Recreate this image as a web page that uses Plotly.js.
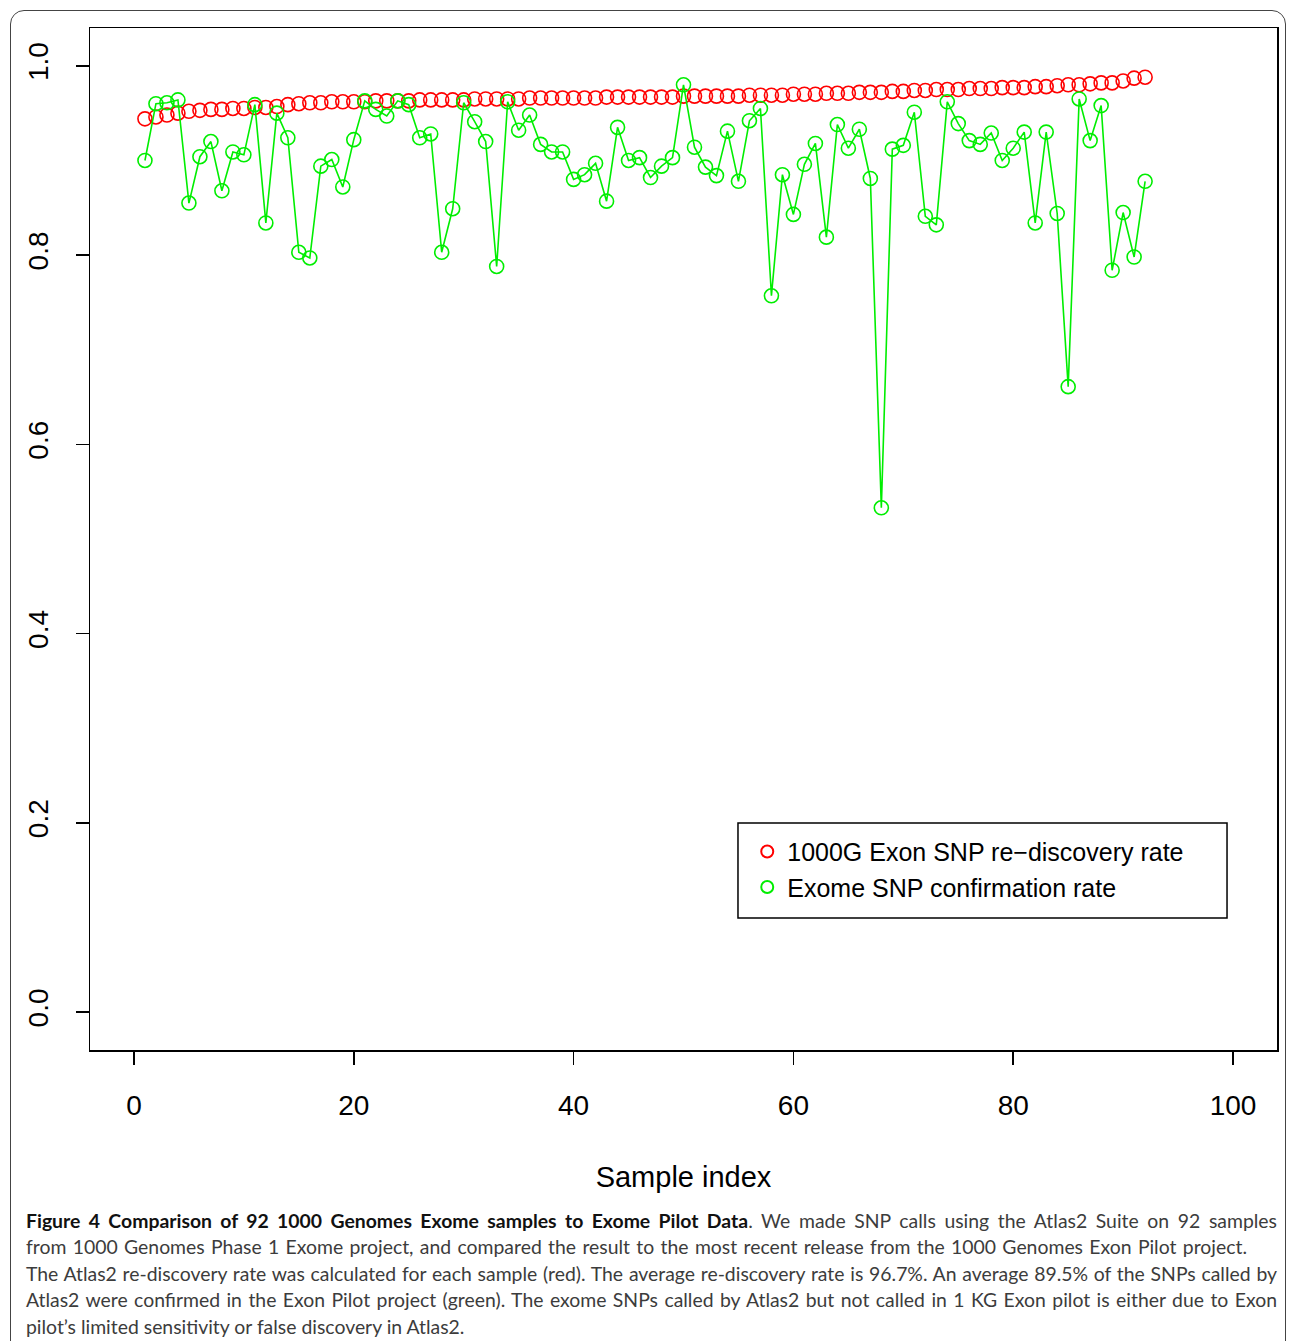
<!DOCTYPE html>
<html>
<head>
<meta charset="utf-8">
<script src="https://cdn.plot.ly/plotly-3.0.1.min.js"></script>
<style>
html, body { margin:0; padding:0; width:1290px; height:1341px; overflow:hidden; background:#fff; }
#frame { position:absolute; left:10px; top:10px; width:1276px; height:1420px; border:1.5px solid #444; border-radius:14px; box-sizing:border-box; }
#plot { position:absolute; left:0; top:0; width:1290px; height:1341px; }
.cap { position:absolute; left:26px; font-family:"Lato","Open Sans",sans-serif; font-size:19.4px; color:#3c3c3c; white-space:nowrap; line-height:26px; }
.just { text-align:justify; text-align-last:justify; white-space:normal; height:26px; }
.cap b { color:#111; }
</style>
</head>
<body>
<div id="frame"></div>
<div id="plot"></div>
<div class="cap just" style="top:1208px; width:1251px;"><b>Figure 4 Comparison of 92 1000 Genomes Exome samples to Exome Pilot Data</b>. We made SNP calls using the Atlas2 Suite on 92 samples</div>
<div class="cap just" style="top:1234px; width:1221px;">from 1000 Genomes Phase 1 Exome project, and compared the result to the most recent release from the 1000 Genomes Exon Pilot project.</div>
<div class="cap just" style="top:1261px; width:1251px;">The Atlas2 re-discovery rate was calculated for each sample (red). The average re-discovery rate is 96.7%. An average 89.5% of the SNPs called by</div>
<div class="cap just" style="top:1287px; width:1251px;">Atlas2 were confirmed in the Exon Pilot project (green). The exome SNPs called by Atlas2 but not called in 1 KG Exon pilot is either due to Exon</div>
<div class="cap" style="top:1314px;">pilot’s limited sensitivity or false discovery in Atlas2.</div>
<script>
const sampleIndex = Array.from({length: 92}, (_, i) => i + 1);

const rediscoveryRate = [
  0.944, 0.946, 0.948, 0.950, 0.952, 0.953, 0.954, 0.954, 0.955, 0.955,
  0.956, 0.956, 0.957, 0.959, 0.960, 0.961, 0.961, 0.962, 0.962, 0.962,
  0.962, 0.963, 0.963, 0.963, 0.963, 0.964, 0.964, 0.964, 0.964, 0.964,
  0.965, 0.965, 0.965, 0.965, 0.965, 0.966, 0.966, 0.966, 0.966, 0.966,
  0.966, 0.966, 0.967, 0.967, 0.967, 0.967, 0.967, 0.967, 0.967, 0.968,
  0.968, 0.968, 0.968, 0.968, 0.968, 0.969, 0.969, 0.969, 0.969, 0.970,
  0.970, 0.970, 0.971, 0.971, 0.971, 0.972, 0.972, 0.972, 0.973, 0.973,
  0.974, 0.974, 0.975, 0.975, 0.975, 0.976, 0.976, 0.976, 0.977, 0.977,
  0.977, 0.978, 0.978, 0.979, 0.980, 0.980, 0.981, 0.982, 0.982, 0.984,
  0.987, 0.988
];

const confirmationRate = [
  0.900, 0.960, 0.961, 0.964, 0.855, 0.904, 0.920, 0.868, 0.909, 0.906,
  0.959, 0.834, 0.950, 0.924, 0.803, 0.797, 0.894, 0.901, 0.872, 0.922,
  0.963, 0.954, 0.947, 0.963, 0.959, 0.924, 0.928, 0.803, 0.849, 0.961,
  0.941, 0.920, 0.788, 0.962, 0.932, 0.948, 0.917, 0.909, 0.909, 0.880,
  0.885, 0.897, 0.857, 0.935, 0.900, 0.903, 0.882, 0.894, 0.903, 0.980,
  0.914, 0.893, 0.884, 0.931, 0.878, 0.942, 0.955, 0.757, 0.885, 0.843,
  0.896, 0.918, 0.819, 0.938, 0.913, 0.933, 0.881, 0.533, 0.912, 0.916,
  0.951, 0.841, 0.832, 0.962, 0.939, 0.921, 0.917, 0.929, 0.900, 0.913,
  0.930, 0.834, 0.930, 0.844, 0.661, 0.965, 0.921, 0.958, 0.784, 0.845,
  0.798, 0.878
];

const seriesNames = ["1000G Exon SNP re\u2212discovery rate", "Exome SNP confirmation rate"];
const xTickVals = [0, 20, 40, 60, 80, 100];
const yTickVals = [0, 0.2, 0.4, 0.6, 0.8, 1.0];
const yTickText = ["0.0", "0.2", "0.4", "0.6", "0.8", "1.0"];

const RED = "#FF0000", GREEN = "#00EE00";

const traces = [
  { x: sampleIndex, y: rediscoveryRate, type: "scatter", mode: "markers", name: seriesNames[0],
    marker: { symbol: "circle-open", size: 14, color: RED, line: { width: 1.6, color: RED } } },
  { x: sampleIndex, y: confirmationRate, type: "scatter", mode: "lines", showlegend: false,
    line: { color: GREEN, width: 1.6 }, hoverinfo: "skip" },
  { x: sampleIndex, y: confirmationRate, type: "scatter", mode: "markers", name: seriesNames[1],
    marker: { symbol: "circle-open", size: 14, color: GREEN, line: { width: 1.6, color: GREEN } } }
];

const font = { family: "Liberation Sans, Arial, sans-serif", color: "#000" };

const layout = {
  width: 1290, height: 1341,
  margin: { l: 90, r: 13, t: 28, b: 291 },
  paper_bgcolor: "rgba(0,0,0,0)", plot_bgcolor: "#fff",
  showlegend: true,
  font: font,
  xaxis: {
    range: [-4, 104], tickvals: xTickVals, ticks: "outside", ticklen: 13, tickwidth: 1.5, tickcolor: "#000",
    showline: true, mirror: true, linecolor: "#000", linewidth: 1.5, showgrid: false, zeroline: false,
    tickfont: { family: font.family, size: 28, color: "#000" }, ticklabelstandoff: 17,
    title: { text: "Sample index", font: { family: font.family, size: 29, color: "#000" }, standoff: 46 }
  },
  yaxis: {
    range: [-0.04, 1.04], tickvals: yTickVals, ticktext: yTickText, ticks: "outside", ticklen: 13, tickwidth: 1.5, tickcolor: "#000",
    showline: true, mirror: true, linecolor: "#000", linewidth: 1.5, showgrid: false, zeroline: false,
    tickangle: -90, tickfont: { family: font.family, size: 28, color: "#000" }, ticklabelstandoff: 16
  },
  legend: {
    x: 0.5537, y: 0.2165, xanchor: "left", yanchor: "top",
    bgcolor: "rgba(0,0,0,0)", borderwidth: 0,
    font: { family: font.family, size: 25, color: "#000" },
    itemsizing: "constant", tracegroupgap: 0
  },
  shapes: [
    { type: "rect", xref: "paper", yref: "paper", x0: 0.5459, x1: 0.9579, y0: 0.1292, y1: 0.2221,
      line: { color: "#000", width: 1.5 }, fillcolor: "rgba(0,0,0,0)" }
  ]
};

Plotly.newPlot("plot", traces, layout, { displayModeBar: false, staticPlot: true });
</script>
</body>
</html>
